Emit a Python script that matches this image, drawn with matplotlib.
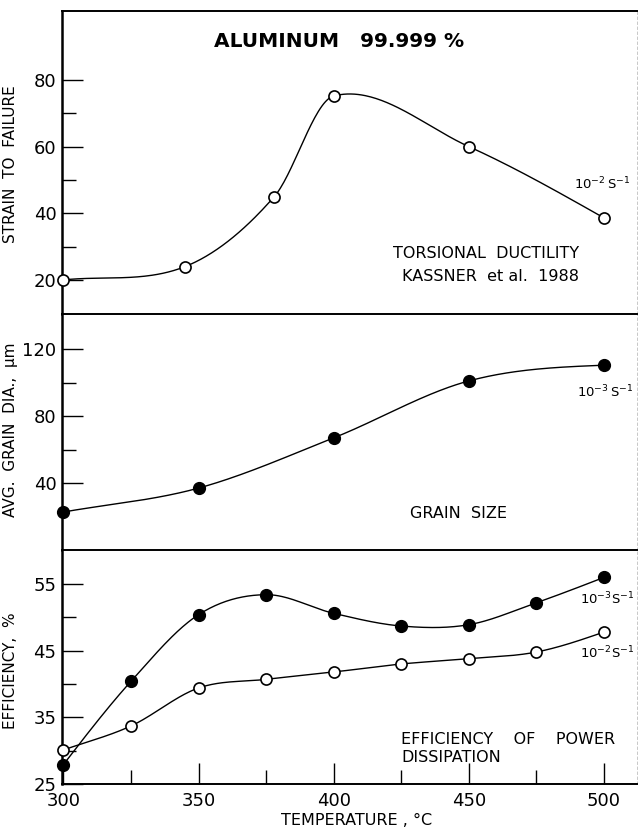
import numpy as np
import matplotlib
matplotlib.use("Agg")
import matplotlib.pyplot as plt

# Aluminium 99.999 % : ductilité, taille de grain et efficacité
# en fonction de la température (°C)

temp_strain = [300, 345, 378, 400, 450, 500]
strain = [20, 24, 45, 75.2, 60, 38.6]

temp_grain = [300, 350, 400, 450, 500]
grain = [22.7, 37, 67, 101, 110.4]

temp_eff = [300, 325, 350, 375, 400, 425, 450, 475, 500]
eff_1e3 = [27.9, 40.4, 50.4, 53.4, 50.6, 48.7, 48.9, 52.2, 56.0]
eff_1e2 = [30.1, 33.7, 39.4, 40.7, 41.8, 43.0, 43.8, 44.8, 47.8]

x_major = [300, 350, 400, 450, 500]
x_minor = [325, 375, 425, 475]

plt.rcParams['font.family'] = 'DejaVu Sans'
plt.rcParams['mathtext.fontset'] = 'dejavusans'
plt.rcParams['mathtext.default'] = 'regular'


def lisse(x, y, n=300):
    # spline de Catmull-Rom (pentes centrées) pour la courbe tracée
    x = np.asarray(x, float)
    y = np.asarray(y, float)
    h = np.diff(x)
    s = np.diff(y) / h
    m = np.zeros_like(y)
    m[1:-1] = (y[2:] - y[:-2]) / (x[2:] - x[:-2])
    m[0] = max(s[0], (3 * s[0] - m[1]) / 2) if s[0] > 0 else (3 * s[0] - m[1]) / 2
    m[-1] = (3 * s[-1] - m[-2]) / 2
    xs = np.linspace(x[0], x[-1], n)
    k = np.clip(np.searchsorted(x, xs) - 1, 0, len(x) - 2)
    t = (xs - x[k]) / h[k]
    h00 = 2 * t**3 - 3 * t**2 + 1
    h10 = t**3 - 2 * t**2 + t
    h01 = -2 * t**3 + 3 * t**2
    h11 = t**3 - t**2
    return xs, h00 * y[k] + h10 * h[k] * m[k] + h01 * y[k + 1] + h11 * h[k] * m[k + 1]


fig = plt.figure(figsize=(6.38, 8.31), dpi=100)
left, width = 0.0972, 0.9013
ax1 = fig.add_axes([left, 0.6222, width, 0.3646])
ax2 = fig.add_axes([left, 0.3381, width, 0.2841])
ax3 = fig.add_axes([left, 0.0566, width, 0.2815])

for ax in (ax1, ax2, ax3):
    ax.set_xlim(299.5, 512.2)
    ax.spines['left'].set_linewidth(1.8)
    ax.spines['top'].set_linewidth(1.4)
    ax.spines['bottom'].set_linewidth(1.4)
    ax.spines['right'].set_linewidth(0.6)
    ax.spines['right'].set_color('0.75')
    ax.spines['right'].set_linestyle((0, (3, 3)))
    ax.tick_params(axis='y', which='major', direction='in', length=15,
                   width=1.0, labelsize=13, pad=4)
    ax.tick_params(axis='y', which='minor', direction='in', length=10,
                   width=1.0)
    ax.tick_params(axis='x', which='both', direction='in', width=1.0)

for ax in (ax1, ax2):
    ax.set_xticks([])
    ax.spines['bottom'].set_visible(False)

line_kw = dict(color='black', lw=1.0, zorder=2)
open_kw = dict(ls='none', marker='o', ms=8, mfc='white', mec='black',
               mew=1.2, zorder=3)
full_kw = dict(ls='none', marker='o', ms=8.5, mfc='black', mec='black',
               zorder=3)
lab_kw = dict(fontsize=11)
txt_kw = dict(fontsize=11.5)
rate_kw = dict(fontsize=9.5, ha='center', va='center')

# --- ductilité en torsion ---
ax1.set_ylim(9.8, 100.7)
ax1.set_yticks([20, 40, 60, 80])
ax1.set_yticks([30, 50, 70], minor=True)
ax1.plot(*lisse(temp_strain, strain), **line_kw)
ax1.plot(temp_strain, strain, clip_on=False, **open_kw)
ax1.set_ylabel('STRAIN  TO  FAILURE', **lab_kw)
ax1.yaxis.set_label_coords(-0.077, 0.495)
ax1.text(0.482, 0.898, 'ALUMINUM   99.999 %', transform=ax1.transAxes,
         ha='center', va='center', fontsize=14.5, fontweight='bold')
ax1.text(0.737, 0.201, 'TORSIONAL  DUCTILITY', transform=ax1.transAxes,
         ha='center', va='center', **txt_kw)
ax1.text(0.746, 0.122, 'KASSNER  et al.  1988', transform=ax1.transAxes,
         ha='center', va='center', **txt_kw)
ax1.text(0.94, 0.43, r'$10^{-2}\,S^{-1}$', transform=ax1.transAxes,
         **rate_kw)

# --- taille de grain ---
ax2.set_ylim(0, 141)
ax2.set_yticks([40, 80, 120])
ax2.set_yticks([60, 100], minor=True)
ax2.plot(*lisse(temp_grain, grain), **line_kw)
ax2.plot(temp_grain, grain, clip_on=False, **full_kw)
ax2.set_ylabel('AVG.  GRAIN  DIA.,  μm', **lab_kw)
ax2.yaxis.set_label_coords(-0.077, 0.508)
ax2.text(0.689, 0.153, 'GRAIN  SIZE', transform=ax2.transAxes,
         ha='center', va='center', **txt_kw)
ax2.text(0.945, 0.67, r'$10^{-3}\,S^{-1}$', transform=ax2.transAxes,
         **rate_kw)

# --- efficacité de dissipation ---
ax3.set_ylim(25, 60.1)
ax3.set_yticks([25, 35, 45, 55])
ax3.set_yticks([30, 40, 50], minor=True)
ax3.set_xticks(x_major)
ax3.set_xticks(x_minor, minor=True)
ax3.tick_params(axis='x', which='major', length=15, labelsize=13, pad=6)
ax3.tick_params(axis='x', which='minor', length=10)
ax3.plot(*lisse(temp_eff, eff_1e3), **line_kw)
ax3.plot(*lisse(temp_eff, eff_1e2), **line_kw)
ax3.plot(temp_eff, eff_1e3, clip_on=False, **full_kw)
ax3.plot(temp_eff, eff_1e2, clip_on=False, **open_kw)
ax3.set_ylabel('EFFICIENCY,  %', **lab_kw)
ax3.yaxis.set_label_coords(-0.077, 0.483)
ax3.set_xlabel('TEMPERATURE , °C', fontsize=11.5)
ax3.xaxis.set_label_coords(0.513, -0.125)
ax3.text(0.948, 0.79, r'$10^{-3}S^{-1}$', transform=ax3.transAxes,
         **rate_kw)
ax3.text(0.948, 0.56, r'$10^{-2}S^{-1}$', transform=ax3.transAxes,
         **rate_kw)
ax3.text(0.59, 0.192, 'EFFICIENCY    OF    POWER', transform=ax3.transAxes,
         ha='left', va='center', **txt_kw)
ax3.text(0.59, 0.111, 'DISSIPATION', transform=ax3.transAxes,
         ha='left', va='center', **txt_kw)

fig.savefig('out.png', dpi=100)
